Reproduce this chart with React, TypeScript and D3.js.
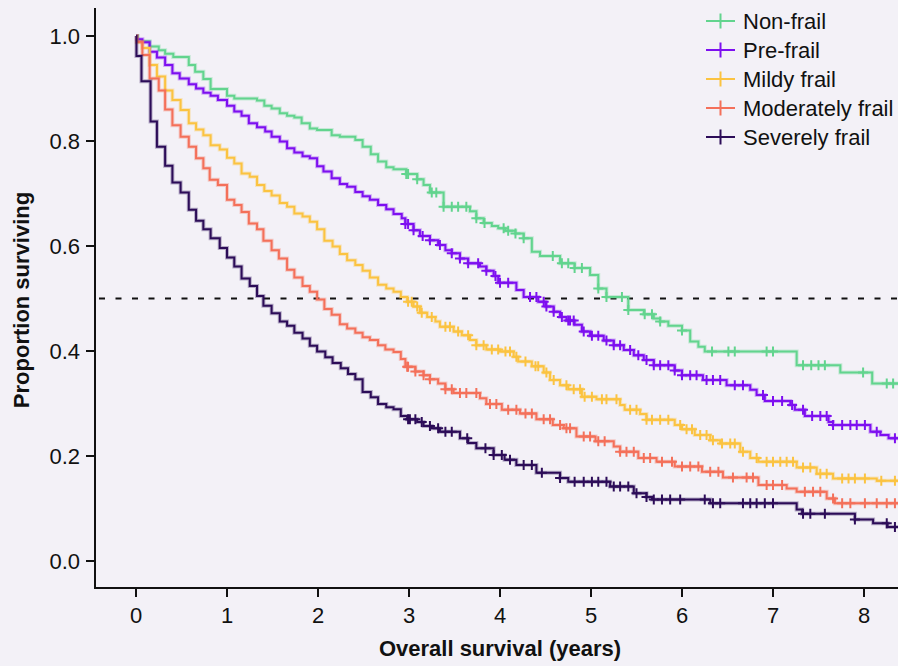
import React, { useEffect, useRef } from 'react';
import * as d3 from 'd3';

const seriesNames = ["Non-frail", "Pre-frail", "Mildy frail", "Moderately frail", "Severely frail"];
const seriesColors = ["#62d48e", "#7d0ff0", "#fbc341", "#f4705a", "#2c0c58"];

// [years, proportion surviving] at each event
const nonFrail = [[0, 1], [0.02, 0.99], [0.15, 0.98], [0.25, 0.973], [0.32, 0.966], [0.41, 0.96], [0.58, 0.945], [0.65, 0.932], [0.74, 0.918], [0.82, 0.899], [1.0, 0.886], [1.08, 0.881], [1.33, 0.877], [1.41, 0.867], [1.49, 0.862], [1.58, 0.853], [1.66, 0.848], [1.74, 0.845], [1.82, 0.834], [1.91, 0.824], [1.99, 0.821], [2.15, 0.811], [2.24, 0.808], [2.41, 0.802], [2.49, 0.789], [2.58, 0.775], [2.66, 0.761], [2.75, 0.75], [2.83, 0.746], [2.97, 0.737], [3.09, 0.727], [3.16, 0.716], [3.23, 0.702], [3.38, 0.675], [3.67, 0.666], [3.74, 0.653], [3.82, 0.644], [3.91, 0.638], [3.98, 0.634], [4.06, 0.629], [4.17, 0.624], [4.26, 0.615], [4.35, 0.589], [4.44, 0.581], [4.66, 0.567], [4.82, 0.558], [4.99, 0.545], [5.08, 0.519], [5.17, 0.503], [5.41, 0.478], [5.58, 0.47], [5.69, 0.462], [5.76, 0.456], [5.85, 0.448], [6.0, 0.439], [6.09, 0.418], [6.18, 0.408], [6.25, 0.399], [7.26, 0.373], [7.74, 0.359], [8.09, 0.338]];
const nonFrailCensor = [2.97, 2.99, 3.09, 3.25, 3.3, 3.38, 3.47, 3.54, 3.63, 3.74, 3.83, 4.04, 4.09, 4.17, 4.26, 4.58, 4.68, 4.75, 4.82, 4.9, 5.08, 5.17, 5.34, 5.41, 5.59, 5.67, 5.76, 6.0, 6.33, 6.51, 6.58, 6.93, 7.0, 7.33, 7.42, 7.5, 7.57, 7.99, 8.25, 8.32];

const preFrail = [[0, 1], [0.01, 0.994], [0.07, 0.988], [0.15, 0.97], [0.23, 0.959], [0.32, 0.945], [0.4, 0.929], [0.48, 0.919], [0.58, 0.908], [0.66, 0.9], [0.74, 0.892], [0.82, 0.886], [0.9, 0.878], [1.0, 0.867], [1.08, 0.856], [1.16, 0.848], [1.24, 0.834], [1.33, 0.826], [1.42, 0.818], [1.49, 0.808], [1.58, 0.799], [1.66, 0.786], [1.74, 0.778], [1.83, 0.771], [1.91, 0.767], [1.99, 0.752], [2.06, 0.742], [2.15, 0.729], [2.24, 0.718], [2.32, 0.713], [2.41, 0.703], [2.49, 0.695], [2.57, 0.688], [2.66, 0.678], [2.75, 0.67], [2.83, 0.661], [2.92, 0.653], [2.96, 0.642], [3.05, 0.63], [3.12, 0.619], [3.23, 0.611], [3.32, 0.602], [3.4, 0.592], [3.47, 0.586], [3.56, 0.576], [3.65, 0.567], [3.78, 0.561], [3.85, 0.553], [3.93, 0.543], [3.98, 0.53], [4.18, 0.516], [4.26, 0.503], [4.42, 0.494], [4.5, 0.485], [4.59, 0.475], [4.66, 0.465], [4.73, 0.458], [4.82, 0.45], [4.9, 0.437], [4.99, 0.429], [5.14, 0.42], [5.25, 0.411], [5.36, 0.402], [5.47, 0.392], [5.58, 0.383], [5.69, 0.373], [5.92, 0.363], [6.0, 0.354], [6.23, 0.345], [6.49, 0.335], [6.75, 0.326], [6.82, 0.316], [6.91, 0.305], [7.19, 0.297], [7.24, 0.288], [7.35, 0.276], [7.61, 0.265], [7.66, 0.259], [8.07, 0.246], [8.18, 0.24], [8.27, 0.234]];
const preFrailCensor = [2.96, 2.99, 3.05, 3.15, 3.23, 3.34, 3.47, 3.56, 3.65, 3.76, 3.85, 3.95, 4.0, 4.09, 4.33, 4.4, 4.48, 4.51, 4.59, 4.68, 4.75, 4.77, 4.81, 4.92, 5.01, 5.08, 5.17, 5.25, 5.32, 5.43, 5.52, 5.61, 5.69, 5.76, 5.85, 5.92, 6.0, 6.09, 6.16, 6.27, 6.34, 6.42, 6.58, 6.67, 6.89, 7.0, 7.1, 7.21, 7.33, 7.43, 7.52, 7.59, 7.66, 7.76, 7.85, 7.92, 8.01, 8.14, 8.34];

const mildlyFrail = [[0, 1], [0.01, 0.988], [0.07, 0.977], [0.15, 0.945], [0.23, 0.923], [0.32, 0.896], [0.4, 0.878], [0.49, 0.859], [0.58, 0.834], [0.66, 0.822], [0.74, 0.811], [0.82, 0.792], [0.92, 0.784], [1.0, 0.768], [1.08, 0.757], [1.16, 0.738], [1.25, 0.732], [1.33, 0.716], [1.41, 0.705], [1.49, 0.696], [1.58, 0.682], [1.66, 0.675], [1.74, 0.662], [1.83, 0.656], [1.91, 0.646], [1.99, 0.632], [2.07, 0.61], [2.16, 0.599], [2.24, 0.585], [2.32, 0.573], [2.41, 0.564], [2.49, 0.553], [2.57, 0.54], [2.66, 0.526], [2.75, 0.519], [2.83, 0.513], [2.91, 0.503], [2.98, 0.494], [3.05, 0.485], [3.12, 0.473], [3.2, 0.465], [3.29, 0.456], [3.34, 0.446], [3.49, 0.437], [3.58, 0.43], [3.67, 0.421], [3.74, 0.411], [3.85, 0.403], [4.0, 0.399], [4.15, 0.389], [4.2, 0.38], [4.35, 0.371], [4.48, 0.359], [4.55, 0.345], [4.66, 0.335], [4.75, 0.327], [4.9, 0.313], [5.06, 0.308], [5.32, 0.297], [5.37, 0.288], [5.54, 0.28], [5.61, 0.269], [5.92, 0.259], [6.0, 0.251], [6.14, 0.24], [6.31, 0.23], [6.42, 0.224], [6.64, 0.208], [6.75, 0.196], [6.84, 0.189], [7.26, 0.178], [7.48, 0.166], [7.66, 0.157], [8.14, 0.153]];
const mildlyFrailCensor = [2.99, 3.03, 3.09, 3.14, 3.25, 3.4, 3.45, 3.54, 3.65, 3.74, 3.82, 3.91, 3.98, 4.06, 4.11, 4.18, 4.28, 4.39, 4.42, 4.51, 4.59, 4.73, 4.81, 4.88, 4.93, 5.01, 5.12, 5.17, 5.28, 5.43, 5.5, 5.61, 5.67, 5.76, 5.85, 5.98, 6.05, 6.11, 6.2, 6.27, 6.34, 6.44, 6.53, 6.58, 6.67, 6.82, 6.93, 7.0, 7.08, 7.15, 7.22, 7.33, 7.41, 7.52, 7.59, 7.76, 7.83, 7.9, 8.01, 8.19, 8.34];

const moderatelyFrail = [[0, 1], [0.01, 0.989], [0.07, 0.964], [0.15, 0.919], [0.25, 0.896], [0.32, 0.86], [0.4, 0.83], [0.49, 0.808], [0.58, 0.789], [0.66, 0.767], [0.74, 0.748], [0.81, 0.726], [0.9, 0.716], [1.0, 0.688], [1.08, 0.678], [1.16, 0.665], [1.24, 0.643], [1.33, 0.632], [1.4, 0.61], [1.49, 0.592], [1.57, 0.576], [1.66, 0.555], [1.74, 0.54], [1.83, 0.524], [1.91, 0.513], [1.99, 0.498], [2.07, 0.48], [2.15, 0.469], [2.24, 0.451], [2.32, 0.443], [2.41, 0.435], [2.49, 0.426], [2.57, 0.421], [2.66, 0.411], [2.74, 0.403], [2.83, 0.398], [2.91, 0.385], [2.96, 0.37], [3.07, 0.361], [3.16, 0.354], [3.23, 0.346], [3.32, 0.338], [3.4, 0.327], [3.49, 0.32], [3.78, 0.31], [3.85, 0.299], [4.02, 0.288], [4.22, 0.281], [4.4, 0.27], [4.58, 0.259], [4.7, 0.253], [4.84, 0.237], [5.05, 0.228], [5.25, 0.218], [5.32, 0.208], [5.52, 0.196], [5.72, 0.189], [5.92, 0.18], [6.22, 0.17], [6.45, 0.159], [6.84, 0.145], [7.15, 0.138], [7.26, 0.132], [7.59, 0.119], [7.68, 0.11]];
const moderatelyFrailCensor = [2.98, 2.99, 3.07, 3.16, 3.23, 3.4, 3.47, 3.56, 3.63, 3.74, 3.89, 3.96, 4.09, 4.18, 4.28, 4.35, 4.48, 4.55, 4.66, 4.73, 4.77, 4.92, 4.99, 5.08, 5.15, 5.32, 5.39, 5.47, 5.58, 5.65, 5.78, 5.89, 6.0, 6.09, 6.18, 6.31, 6.4, 6.56, 6.71, 6.78, 6.93, 7.0, 7.1, 7.35, 7.44, 7.52, 7.66, 7.76, 7.85, 8.01, 8.14, 8.25, 8.34];

const severelyFrail = [[0, 1], [0.005, 0.962], [0.06, 0.914], [0.16, 0.837], [0.23, 0.789], [0.32, 0.753], [0.4, 0.721], [0.49, 0.702], [0.58, 0.669], [0.66, 0.648], [0.74, 0.632], [0.82, 0.615], [0.92, 0.596], [1.0, 0.578], [1.08, 0.561], [1.16, 0.538], [1.25, 0.524], [1.33, 0.505], [1.4, 0.486], [1.49, 0.472], [1.58, 0.456], [1.66, 0.448], [1.74, 0.435], [1.83, 0.424], [1.91, 0.41], [1.99, 0.399], [2.08, 0.388], [2.16, 0.377], [2.25, 0.367], [2.33, 0.356], [2.41, 0.346], [2.49, 0.322], [2.58, 0.312], [2.66, 0.299], [2.75, 0.293], [2.83, 0.289], [2.91, 0.276], [2.98, 0.27], [3.09, 0.265], [3.16, 0.257], [3.25, 0.253], [3.34, 0.246], [3.56, 0.234], [3.65, 0.225], [3.74, 0.215], [3.93, 0.202], [4.05, 0.193], [4.18, 0.183], [4.4, 0.168], [4.66, 0.158], [4.75, 0.151], [5.21, 0.142], [5.47, 0.129], [5.61, 0.122], [5.67, 0.117], [6.31, 0.11], [7.26, 0.098], [7.32, 0.09], [7.9, 0.079], [8.1, 0.072], [8.26, 0.065]];
const severelyFrailCensor = [2.99, 3.01, 3.07, 3.14, 3.23, 3.32, 3.4, 3.47, 3.64, 3.84, 3.93, 4.02, 4.11, 4.26, 4.35, 4.46, 4.66, 4.82, 4.92, 5.01, 5.08, 5.17, 5.25, 5.32, 5.41, 5.5, 5.61, 5.69, 5.78, 5.87, 5.98, 6.25, 6.34, 6.42, 6.67, 6.75, 6.82, 6.91, 7.0, 7.33, 7.41, 7.57, 7.9, 8.25, 8.34];

const xTicks = [0, 1, 2, 3, 4, 5, 6, 7, 8];
const yTicks = [0, 0.2, 0.4, 0.6, 0.8, 1.0];
const medianLine = 0.5;

const curves = [nonFrail, preFrail, mildlyFrail, moderatelyFrail, severelyFrail];
const censors = [nonFrailCensor, preFrailCensor, mildlyFrailCensor, moderatelyFrailCensor, severelyFrailCensor];

const W = 898;
const H = 666;
const FONT = "'Liberation Sans', Arial, sans-serif";

const App = () => {
    const svgRef = useRef(null);

    useEffect(() => {
        const svg = d3.select(svgRef.current);
        svg.selectAll("*").remove();

        const x = d3.scaleLinear().domain([0, 8]).range([136, 864]);
        const y = d3.scaleLinear().domain([0, 1]).range([561, 36]);
        const axisLeft = 95;
        const axisBottom = 588;

        svg.append("rect").attr("width", W).attr("height", H).attr("fill", "#f3f1f7");

        // median reference
        svg.append("line")
            .attr("x1", axisLeft + 4).attr("x2", W)
            .attr("y1", y(medianLine)).attr("y2", y(medianLine))
            .attr("stroke", "#111").attr("stroke-width", 2)
            .attr("stroke-dasharray", "6,10.5");

        const line = d3.line()
            .x(d => x(d[0]))
            .y(d => y(d[1]))
            .curve(d3.curveStepAfter);

        const bis = d3.bisector(d => d[0]).right;
        const survAt = (curve, t) => curve[Math.max(0, bis(curve, t) - 1)][1];

        curves.forEach((curve, i) => {
            const pts = [...curve, [8.6, curve[curve.length - 1][1]]];
            const g = svg.append("g");
            g.append("path").attr("d", line(pts)).attr("fill", "none")
                .attr("stroke", seriesColors[i]).attr("stroke-width", 4).attr("opacity", 0.3);
            g.append("path").attr("d", line(pts)).attr("fill", "none")
                .attr("stroke", seriesColors[i]).attr("stroke-width", 2);

            // censor ticks
            g.selectAll("path.cens")
                .data(censors[i])
                .enter()
                .append("path")
                .attr("class", "cens")
                .attr("d", t => {
                    const cx = x(t), cy = y(survAt(curve, t));
                    return `M${cx - 5},${cy}h10M${cx},${cy - 5}v10`;
                })
                .attr("stroke", seriesColors[i])
                .attr("stroke-width", 2)
                .attr("fill", "none");
        });

        // axes
        const axes = svg.append("g").attr("stroke", "#111").attr("stroke-width", 2);
        axes.append("line").attr("x1", axisLeft).attr("x2", axisLeft).attr("y1", 8).attr("y2", axisBottom + 1);
        axes.append("line").attr("x1", axisLeft - 1).attr("x2", W).attr("y1", axisBottom).attr("y2", axisBottom);

        yTicks.forEach(v => {
            axes.append("line").attr("x1", axisLeft - 9).attr("x2", axisLeft).attr("y1", y(v)).attr("y2", y(v));
            svg.append("text")
                .attr("x", 80).attr("y", y(v) + 7.8)
                .attr("text-anchor", "end")
                .attr("font-family", FONT).attr("font-size", 22).attr("fill", "#111")
                .text(d3.format(".1f")(v));
        });

        xTicks.forEach(v => {
            axes.append("line").attr("x1", x(v)).attr("x2", x(v)).attr("y1", axisBottom).attr("y2", axisBottom + 9);
            svg.append("text")
                .attr("x", x(v)).attr("y", 623)
                .attr("text-anchor", "middle")
                .attr("font-family", FONT).attr("font-size", 22).attr("fill", "#111")
                .text(v);
        });

        svg.append("text")
            .attr("x", 500).attr("y", 656)
            .attr("text-anchor", "middle")
            .attr("font-family", FONT).attr("font-size", 22).attr("font-weight", "bold").attr("fill", "#111")
            .text("Overall survival (years)");

        svg.append("text")
            .attr("transform", "translate(29,300) rotate(-90)")
            .attr("text-anchor", "middle")
            .attr("font-family", FONT).attr("font-size", 22).attr("font-weight", "bold").attr("fill", "#111")
            .text("Proportion surviving");

        // legend
        const legend = svg.append("g");
        seriesNames.forEach((name, i) => {
            const ly = 21 + i * 29;
            legend.append("path")
                .attr("d", `M706,${ly}h29M720.5,${ly - 7.5}v15`)
                .attr("stroke", seriesColors[i]).attr("stroke-width", 2).attr("fill", "none");
            legend.append("text")
                .attr("x", 743).attr("y", ly + 7.8)
                .attr("font-family", FONT).attr("font-size", 22).attr("fill", "#111")
                .text(name);
        });
    }, []);

    return (
        <div style={{ position: "fixed", left: 0, top: 0 }}>
            <svg ref={svgRef} width={W} height={H} style={{ display: "block" }}></svg>
        </div>
    );
};

export default App;
